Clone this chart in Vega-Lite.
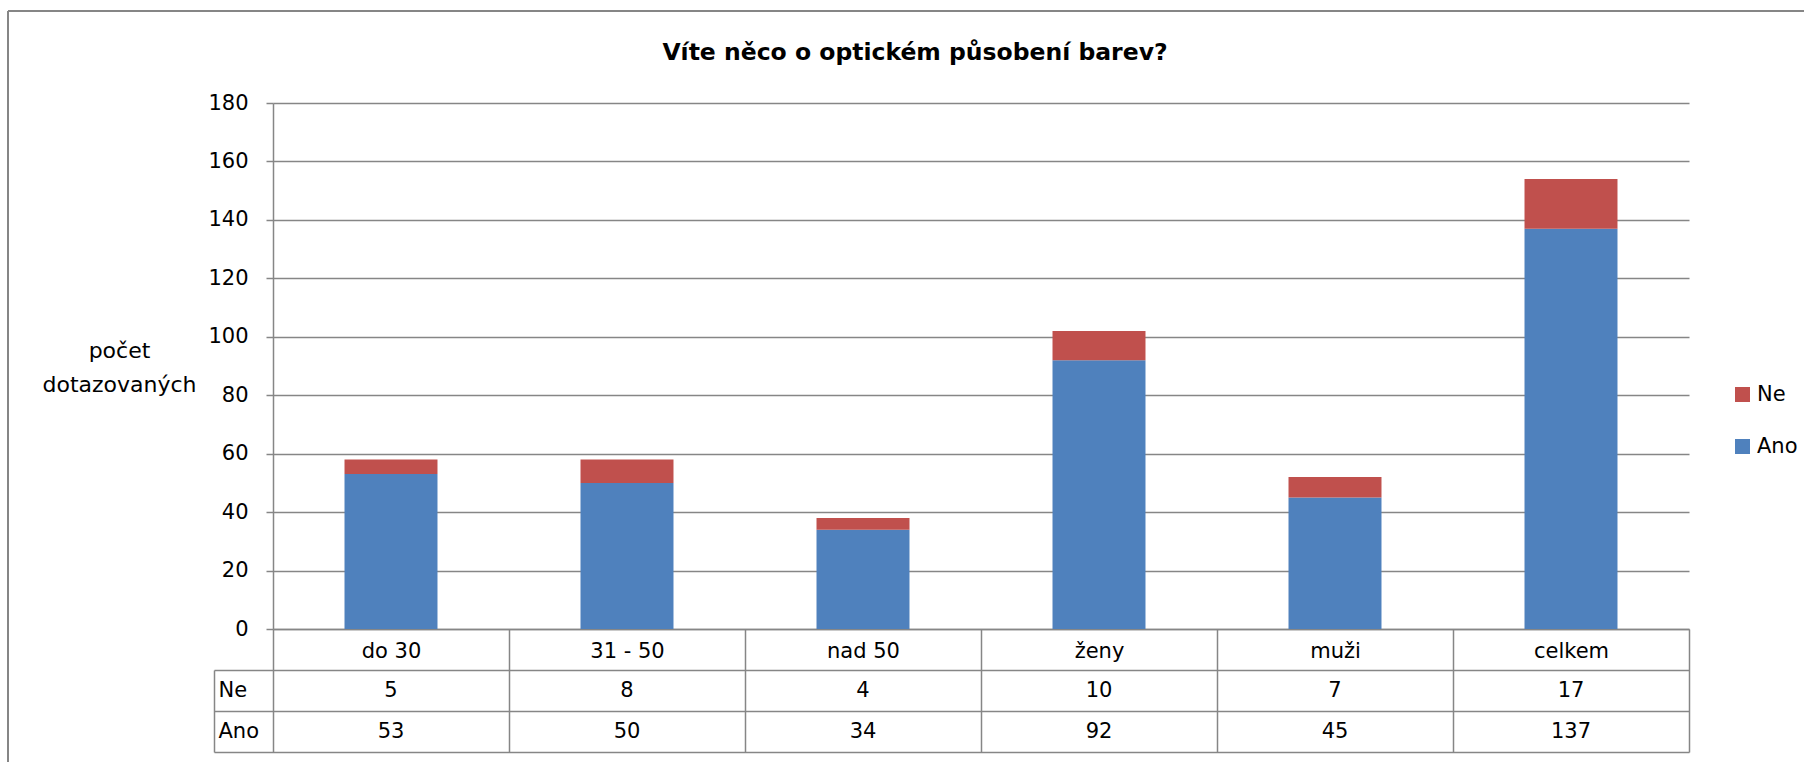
{
  "$schema": "https://vega.github.io/schema/vega-lite/v6.json",
  "autosize": {"type": "none"},
  "width": 1796,
  "height": 751,
  "padding": {"left": 8, "top": 11, "right": 0, "bottom": 0},
  "background": "white",
  "config": {
    "font": "DejaVu Sans",
    "view": {"stroke": "#868686", "strokeWidth": 2, "strokeDash": [1796, 2547, 751, 0]},
    "axis": {"labelFont": "DejaVu Sans", "titleFont": "DejaVu Sans", "labelColor": "black", "titleColor": "black"}
  },
  "title": {
    "text": "Víte něco o optickém působení barev?",
    "anchor": "middle",
    "frame": "group",
    "dx": 9,
    "offset": -64,
    "fontSize": 23.5,
    "fontWeight": "bold",
    "font": "DejaVu Sans",
    "color": "black"
  },
  "data": {
    "values": [
      {"category": "do 30", "series": "Ano", "value": 53},
      {"category": "do 30", "series": "Ne", "value": 5},
      {"category": "31 - 50", "series": "Ano", "value": 50},
      {"category": "31 - 50", "series": "Ne", "value": 8},
      {"category": "nad 50", "series": "Ano", "value": 34},
      {"category": "nad 50", "series": "Ne", "value": 4},
      {"category": "ženy", "series": "Ano", "value": 92},
      {"category": "ženy", "series": "Ne", "value": 10},
      {"category": "muži", "series": "Ano", "value": 45},
      {"category": "muži", "series": "Ne", "value": 7},
      {"category": "celkem", "series": "Ano", "value": 137},
      {"category": "celkem", "series": "Ne", "value": 17}
    ]
  },
  "layer": [
    {
      "mark": {"type": "bar", "width": {"band": 0.394}},
      "encoding": {
        "x": {
          "field": "category",
          "type": "nominal",
          "sort": ["do 30", "31 - 50", "nad 50", "ženy", "muži", "celkem"],
          "scale": {"paddingInner": 0, "paddingOuter": 0, "range": [265, 1681]},
          "axis": {
            "title": null,
            "orient": "bottom",
            "offset": -133,
            "labelAngle": 0,
            "labelFontSize": 21,
            "labelPadding": -112,
            "domainColor": "#868686",
            "domainWidth": 1.5,
            "tickBand": "extent",
            "tickSize": 123,
            "tickColor": "#868686",
            "tickWidth": 1.5,
            "grid": false
          }
        },
        "y": {
          "field": "value",
          "type": "quantitative",
          "stack": "zero",
          "scale": {"domain": [0, 180], "nice": false, "range": [618, 92]},
          "axis": {
            "values": [0, 20, 40, 60, 80, 100, 120, 140, 160, 180],
            "offset": -265,
            "title": ["počet", "dotazovaných"],
            "titleAngle": 0,
            "titleAlign": "center",
            "titleBaseline": "middle",
            "titleX": -154,
            "titleY": 339,
            "titleFontSize": 22,
            "titleFontWeight": "normal",
            "titleLineHeight": 34,
            "labelFontSize": 21,
            "labelPadding": 18,
            "tickSize": 7,
            "tickColor": "#868686",
            "tickWidth": 1.5,
            "domainColor": "#868686",
            "domainWidth": 1.5,
            "grid": true,
            "gridColor": "#868686",
            "gridWidth": 1.5
          }
        },
        "color": {
          "field": "series",
          "type": "nominal",
          "scale": {"domain": ["Ne", "Ano"], "range": ["#C0504D", "#4F81BD"]},
          "legend": {
            "title": null,
            "orient": "none",
            "legendX": 1724,
            "legendY": 373,
            "symbolType": "square",
            "symbolSize": 225,
            "symbolStrokeWidth": 0,
            "labelFontSize": 21,
            "labelFont": "DejaVu Sans",
            "labelColor": "black",
            "rowPadding": 30
          }
        },
        "order": {"field": "series", "sort": "ascending"}
      }
    },
    {
      "mark": {"type": "text", "fontSize": 21, "font": "DejaVu Sans", "color": "black", "baseline": "middle"},
      "encoding": {
        "x": {
          "field": "category",
          "type": "nominal",
          "sort": ["do 30", "31 - 50", "nad 50", "ženy", "muži", "celkem"]
        },
        "y": {
          "field": "series",
          "type": "nominal",
          "scale": {"domain": ["Ne", "Ano"], "range": [659, 741], "paddingInner": 0, "paddingOuter": 0},
          "axis": {
            "title": null,
            "orient": "left",
            "offset": -206,
            "labelAlign": "left",
            "labelFontSize": 21,
            "labelPadding": 1471,
            "domainColor": "#868686",
            "domainWidth": 1.5,
            "tickBand": "extent",
            "tickSize": -1475,
            "tickColor": "#868686",
            "tickWidth": 1.5,
            "grid": false
          }
        },
        "text": {"field": "value", "type": "quantitative"}
      }
    }
  ],
  "resolve": {"scale": {"y": "independent"}, "axis": {"y": "independent"}}
}
